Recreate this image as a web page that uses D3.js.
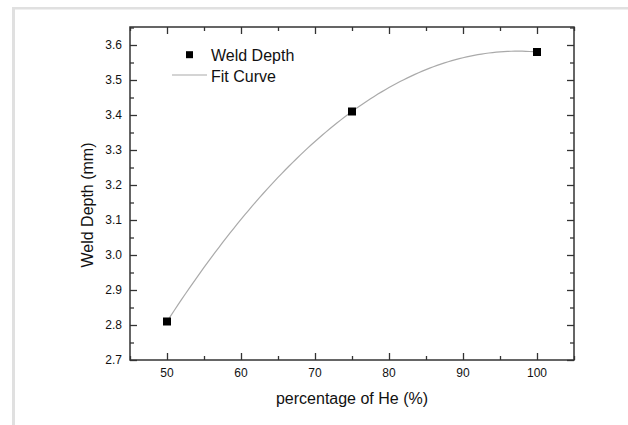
<!DOCTYPE html>
<html>
<head>
<meta charset="utf-8">
<script src="https://cdn.jsdelivr.net/npm/d3@7"></script>
<style>
  html, body { margin: 0; padding: 0; background: #fff; }
  svg { display: block; }
  text { font-family: "Liberation Sans", Arial, sans-serif; fill: #111; }
</style>
</head>
<body>
<svg id="chart" width="628" height="425"></svg>
<script>
// Measured weld depth against helium fraction in the shielding gas
const heliumPct = [50, 75, 100];
const weldDepth = [2.81, 3.41, 3.58];

// Axis ticks
const xMajorTicks = [50, 60, 70, 80, 90, 100];
const xMinorTicks = [45, 55, 65, 75, 85, 95, 105];
const yMajorTicks = [2.7, 2.8, 2.9, 3.0, 3.1, 3.2, 3.3, 3.4, 3.5, 3.6];
const yMinorTicks = [2.75, 2.85, 2.95, 3.05, 3.15, 3.25, 3.35, 3.45, 3.55, 3.65];

const xTitle = "percentage of He (%)";
const yTitle = "Weld Depth (mm)";
const legendLabels = ["Weld Depth", "Fit Curve"];

// Least-squares polynomial fit (order 2) of the measurements
function polyfit(xs, ys, order) {
  const n = order + 1;
  const A = Array.from({length: n}, () => new Array(n + 1).fill(0));
  xs.forEach((xv, k) => {
    for (let i = 0; i < n; i++) {
      for (let j = 0; j < n; j++) A[i][j] += Math.pow(xv, i + j);
      A[i][n] += ys[k] * Math.pow(xv, i);
    }
  });
  for (let c = 0; c < n; c++) {
    let p = c;
    for (let r = c + 1; r < n; r++) if (Math.abs(A[r][c]) > Math.abs(A[p][c])) p = r;
    [A[c], A[p]] = [A[p], A[c]];
    for (let r = 0; r < n; r++) {
      if (r === c) continue;
      const f = A[r][c] / A[c][c];
      for (let k = c; k <= n; k++) A[r][k] -= f * A[c][k];
    }
  }
  return A.map((row, i) => row[n] / row[i]);
}
const coef = polyfit(heliumPct, weldDepth, 2);
const fitAt = xv => coef.reduce((s, c, i) => s + c * Math.pow(xv, i), 0);
const fitXs = d3.range(d3.min(heliumPct), d3.max(heliumPct) + 0.001, 0.5);

const svg = d3.select("#chart");

// Page frame lines
svg.append("rect").attr("x", 12).attr("y", 7).attr("width", 616).attr("height", 2.5).attr("fill", "#e0e0e0");
svg.append("rect").attr("x", 12).attr("y", 7).attr("width", 3).attr("height", 418).attr("fill", "#e0e0e0");

const plotLeft = 130, plotRight = 574, plotTop = 27, plotBottom = 360;
const x = d3.scaleLinear().domain([45, 105]).range([plotLeft, plotRight]);
const y = d3.scaleLinear().domain([2.7, 3.65]).range([plotBottom, plotBottom - 0.95 * 350]);

const axisColor = "#333";
const g = svg.append("g");

// Inward ticks on all four sides
function ticks(axisGen, tr, size) {
  const a = g.append("g").attr("transform", tr).call(axisGen.tickSize(size).tickFormat(""));
  a.select(".domain").remove();
  a.selectAll("line").attr("stroke", axisColor).attr("stroke-width", 1.3);
  return a;
}
ticks(d3.axisTop(x).tickValues(xMajorTicks), `translate(0,${plotBottom})`, 7);
ticks(d3.axisTop(x).tickValues(xMinorTicks), `translate(0,${plotBottom})`, 4);
ticks(d3.axisBottom(x).tickValues(xMajorTicks), `translate(0,${plotTop})`, 7);
ticks(d3.axisBottom(x).tickValues(xMinorTicks), `translate(0,${plotTop})`, 4);
ticks(d3.axisRight(y).tickValues(yMajorTicks), `translate(${plotLeft},0)`, 7);
ticks(d3.axisRight(y).tickValues(yMinorTicks), `translate(${plotLeft},0)`, 4);
ticks(d3.axisLeft(y).tickValues(yMajorTicks), `translate(${plotRight},0)`, 7);
ticks(d3.axisLeft(y).tickValues(yMinorTicks), `translate(${plotRight},0)`, 4);

// Plot frame
g.append("rect")
  .attr("x", plotLeft).attr("y", plotTop)
  .attr("width", plotRight - plotLeft).attr("height", plotBottom - plotTop)
  .attr("fill", "none").attr("stroke", axisColor).attr("stroke-width", 1.5);

// Tick labels
g.selectAll(".xl").data(xMajorTicks).join("text")
  .attr("x", d => x(d)).attr("y", 377)
  .attr("text-anchor", "middle").attr("font-size", 12)
  .text(d => d3.format("d")(d));
g.selectAll(".yl").data(yMajorTicks).join("text")
  .attr("x", 122).attr("y", d => y(d) + 4.3)
  .attr("text-anchor", "end").attr("font-size", 12)
  .text(d => d3.format(".1f")(d));

// Axis titles
g.append("text").attr("x", x(75)).attr("y", 404)
  .attr("text-anchor", "middle").attr("font-size", 16).text(xTitle);
g.append("text").attr("transform", `translate(93,${205}) rotate(-90)`)
  .attr("text-anchor", "middle").attr("font-size", 16).text(yTitle);

// Fit curve
const line = d3.line().x(d => x(d)).y(d => y(fitAt(d))).curve(d3.curveLinear);
g.append("path").datum(fitXs).attr("d", line)
  .attr("fill", "none").attr("stroke", "#aaaaaa").attr("stroke-width", 1.2);

// Data markers
const ms = 8;
g.selectAll(".pt").data(heliumPct).join("rect")
  .attr("x", d => x(d) - ms / 2)
  .attr("y", (d, i) => y(weldDepth[i]) - ms / 2)
  .attr("width", ms).attr("height", ms).attr("fill", "#000");

// Legend
g.append("rect").attr("x", 189.5 - 3.5).attr("y", 54.7 - 3.5).attr("width", 7).attr("height", 7).attr("fill", "#000");
g.append("text").attr("x", 211).attr("y", 60.5).attr("font-size", 16).text(legendLabels[0]);
g.append("line").attr("x1", 172).attr("x2", 207).attr("y1", 75).attr("y2", 75)
  .attr("stroke", "#aaaaaa").attr("stroke-width", 1.2);
g.append("text").attr("x", 211).attr("y", 81.5).attr("font-size", 16).text(legendLabels[1]);
</script>
</body>
</html>
